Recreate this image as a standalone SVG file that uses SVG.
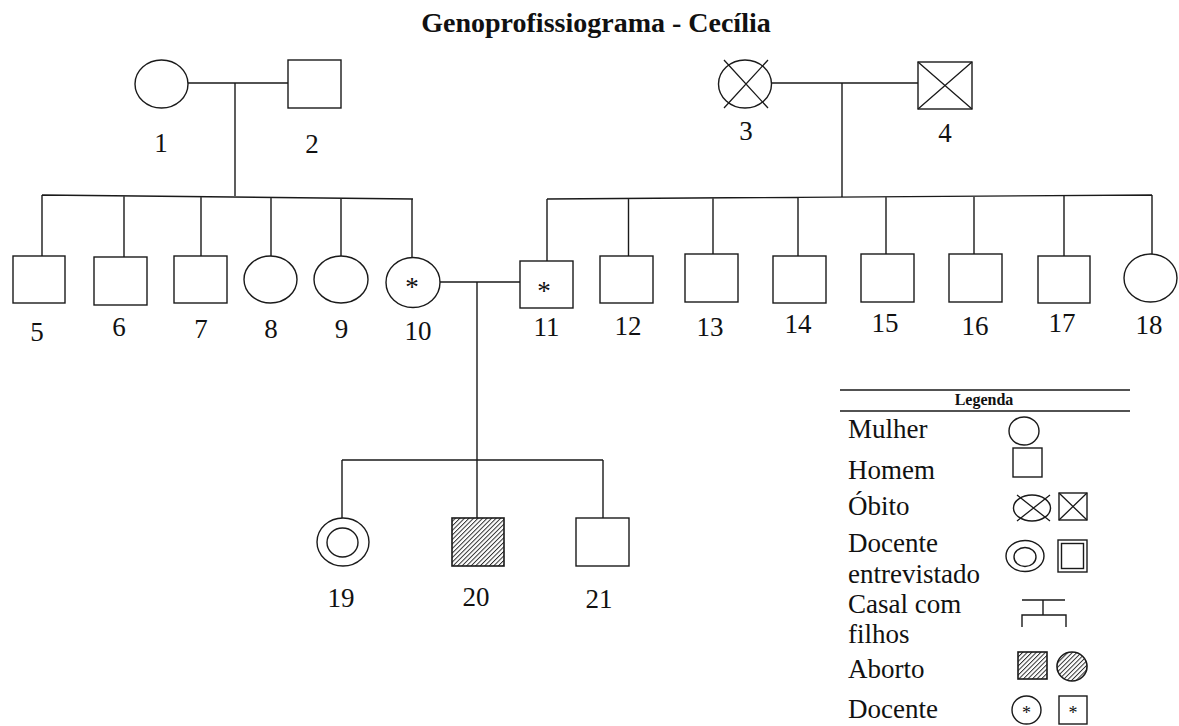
<svg xmlns="http://www.w3.org/2000/svg" width="1179" height="726" viewBox="0 0 1179 726">
<defs>
<style>
.s{fill:#fff;stroke:#1a1a1a;stroke-width:1.4}
.x{stroke:#1a1a1a;stroke-width:1.3;fill:none}
.l{stroke:#1a1a1a;stroke-width:1.4;fill:none}
.t{font-family:"Liberation Serif","Times New Roman",serif;font-size:27px;fill:#111;text-anchor:middle}
.lg{font-family:"Liberation Serif","Times New Roman",serif;font-size:27px;fill:#111}
.sm{font-family:"Liberation Serif","Times New Roman",serif;font-size:18px;fill:#111;text-anchor:middle}
.ttl{font-family:"Liberation Serif","Times New Roman",serif;font-size:28px;font-weight:bold;fill:#111;text-anchor:middle}
.leg{font-family:"Liberation Serif","Times New Roman",serif;font-size:16px;font-weight:bold;fill:#111;text-anchor:middle}
.h{fill:url(#hatch);stroke:#1a1a1a;stroke-width:1.6}
</style>
<pattern id="hatch" patternUnits="userSpaceOnUse" width="3.2" height="3.2" patternTransform="rotate(45)">
<rect x="0" y="0" width="3.2" height="3.2" fill="#fff"/>
<line x1="0.5" y1="0" x2="0.5" y2="3.2" stroke="#1a1a1a" stroke-width="0.9"/>
</pattern>
</defs>
<rect x="0" y="0" width="1179" height="726" fill="#fff"/>
<text x="596" y="32" class="ttl">Genoprofissiograma - Cecília</text>

<g id="connectors" class="l">
<path d="M188 83H288M235 83V196M42 195L413 199M42 195V256M124 196V257M201 197V256M271 197V256M341 198V256M412 199V257"/>
<path d="M772 83H918M842 83V197M547 199L1152 195M547 199V261M628.5 198V256M713 198V254M798 198V256M886 197V254M974 196V254M1064 196V256M1152 195V254"/>
<path d="M440 282H520M477 282V460M342 460H603M342 460V518M477 460V518M603 460V518"/>
</g>

<g id="n1"><ellipse class="s" cx="161.5" cy="84" rx="26.5" ry="24"/><text class="t" x="161" y="152">1</text></g>
<g id="n2"><rect class="s" x="288" y="60" width="53" height="48"/><text class="t" x="312" y="153">2</text></g>
<g id="n3"><ellipse class="s" cx="745" cy="84" rx="26.5" ry="24"/><path class="x" d="M724 60L768 108M768 60L724 108"/><text class="t" x="746" y="140">3</text></g>
<g id="n4"><rect class="s" x="918" y="62" width="54" height="47"/><path class="x" d="M918 62L972 109M972 62L918 109"/><text class="t" x="945" y="142">4</text></g>

<g id="n5"><rect class="s" x="13" y="256" width="52" height="47"/><text class="t" x="37" y="341">5</text></g>
<g id="n6"><rect class="s" x="94" y="257" width="53" height="48"/><text class="t" x="119" y="336">6</text></g>
<g id="n7"><rect class="s" x="174" y="256" width="53" height="47"/><text class="t" x="201" y="338">7</text></g>
<g id="n8"><ellipse class="s" cx="270.5" cy="279.5" rx="26.5" ry="23.5"/><text class="t" x="271" y="338">8</text></g>
<g id="n9"><ellipse class="s" cx="341" cy="279.5" rx="27" ry="23.5"/><text class="t" x="341.5" y="338">9</text></g>
<g id="n10"><ellipse class="s" cx="413" cy="282.5" rx="27" ry="25"/><text class="t" x="412" y="296">*</text><text class="t" x="418" y="340">10</text></g>
<g id="n11"><rect class="s" x="520" y="261" width="53" height="47"/><text class="t" x="544" y="300">*</text><text class="t" x="546.5" y="336">11</text></g>
<g id="n12"><rect class="s" x="600" y="256" width="53" height="47"/><text class="t" x="628" y="335">12</text></g>
<g id="n13"><rect class="s" x="685" y="254" width="53" height="48"/><text class="t" x="710" y="336">13</text></g>
<g id="n14"><rect class="s" x="773" y="256" width="53" height="47"/><text class="t" x="798" y="333">14</text></g>
<g id="n15"><rect class="s" x="861" y="254" width="53" height="48"/><text class="t" x="885" y="332">15</text></g>
<g id="n16"><rect class="s" x="949" y="254" width="53" height="48"/><text class="t" x="975" y="335">16</text></g>
<g id="n17"><rect class="s" x="1038" y="256" width="52" height="47"/><text class="t" x="1062" y="332">17</text></g>
<g id="n18"><ellipse class="s" cx="1150.5" cy="278" rx="26.5" ry="24"/><text class="t" x="1149" y="334">18</text></g>

<g id="n19"><ellipse class="s" cx="343" cy="542" rx="26" ry="24"/><ellipse class="s" cx="342.5" cy="542.5" rx="15.5" ry="14.5"/><text class="t" x="341" y="607">19</text></g>
<g id="n20"><rect class="h" x="452" y="518" width="52" height="48"/><text class="t" x="476" y="606">20</text></g>
<g id="n21"><rect class="s" x="576" y="518" width="53" height="48"/><text class="t" x="599" y="608">21</text></g>

<g id="legend">
<path d="M840 390H1130M840 411H1130" stroke="#1a1a1a" stroke-width="1.6"/>
<text x="984" y="405" class="leg">Legenda</text>
<text class="lg" x="848" y="438">Mulher</text>
<text class="lg" x="848" y="479">Homem</text>
<text class="lg" x="848" y="515">Óbito</text>
<text class="lg" x="848" y="552">Docente</text>
<text class="lg" x="848" y="583">entrevistado</text>
<text class="lg" x="848" y="613">Casal com</text>
<text class="lg" x="848" y="643">filhos</text>
<text class="lg" x="848" y="678">Aborto</text>
<text class="lg" x="848" y="718">Docente</text>
<ellipse class="s" cx="1024" cy="431" rx="15" ry="14"/>
<rect class="s" x="1013" y="448" width="29" height="29"/>
<ellipse class="s" cx="1032" cy="508" rx="18.5" ry="13"/>
<path class="x" d="M1017 495L1050 521M1050 495L1017 521"/>
<rect class="s" x="1059" y="493" width="28" height="27"/>
<path class="x" d="M1059 493L1087 520M1087 493L1059 520"/>
<ellipse class="s" cx="1025" cy="556" rx="19" ry="15.5"/>
<ellipse class="s" cx="1025" cy="557" rx="11" ry="9.5"/>
<rect class="s" x="1058" y="540" width="29" height="32"/>
<rect class="s" x="1061.5" y="543.5" width="22" height="25"/>
<path class="l" d="M1022 600H1065M1043 600V615M1022 627V615H1066V627"/>
<rect class="h" x="1018" y="652" width="29" height="27"/>
<ellipse class="h" cx="1072" cy="666.5" rx="15" ry="14.5"/>
<ellipse class="s" cx="1026.5" cy="710" rx="14.5" ry="14"/>
<text class="sm" x="1026.5" y="719">*</text>
<rect class="s" x="1059" y="696" width="28" height="28"/>
<text class="sm" x="1073" y="719">*</text>
</g>
</svg>
